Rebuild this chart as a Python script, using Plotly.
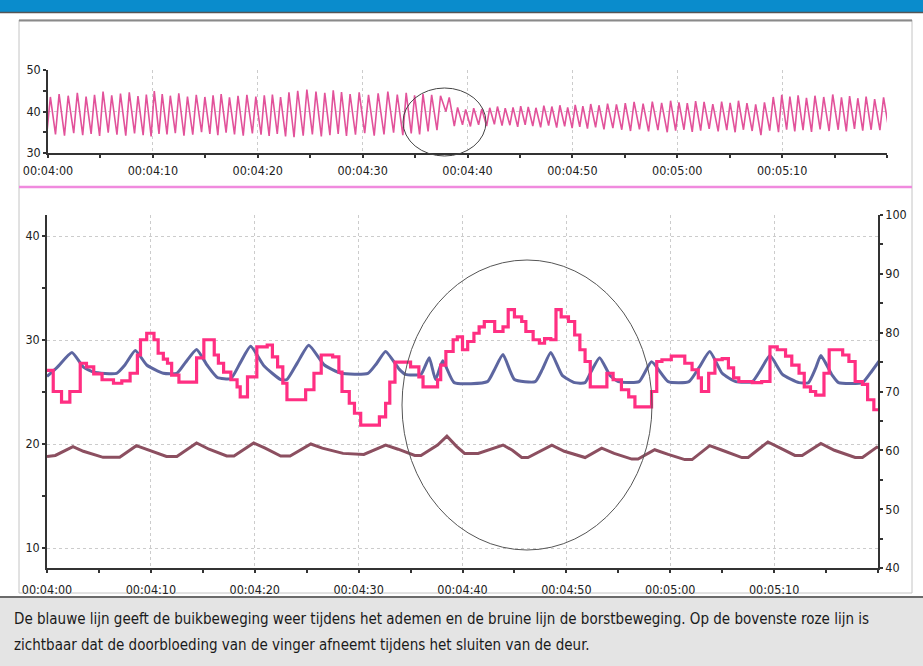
import plotly.graph_objects as go

# ---------------- data ----------------
x_tick_vals = [240, 250, 260, 270, 280, 290, 300, 310]
x_tick_text = ["00:04:00", "00:04:10", "00:04:20", "00:04:30",
               "00:04:40", "00:04:50", "00:05:00", "00:05:10"]

# heart rate (beats/min, right axis) - step line
hr_t = [240.0, 240.6, 241.4, 242.2, 243.2, 243.8, 244.5, 245.3, 246.4, 247.2,
        248.0, 248.7, 249.0, 249.6, 250.3, 250.7, 251.2, 251.6, 252.0, 252.7,
        254.4, 255.1, 256.1, 256.5, 257.0, 257.7, 258.3, 258.6, 259.3, 260.2,
        261.2, 261.7, 262.2, 262.7, 263.1, 264.9, 265.7, 266.4, 267.5, 268.1,
        268.4, 269.1, 269.6, 270.2, 272.0, 272.6, 273.0, 273.5, 275.0, 275.8,
        276.2, 277.6, 277.9, 278.4, 279.1, 279.5, 280.0, 280.5, 281.1, 281.6,
        282.1, 283.1, 283.9, 284.4, 285.0, 285.7, 286.1, 286.8, 287.4, 287.9,
        288.5, 289.0, 289.5, 290.2, 290.8, 291.3, 291.8, 292.3, 293.9, 294.5,
        295.3, 296.0, 296.6, 298.2, 298.7, 299.2, 300.1, 301.4, 302.1, 302.7,
        303.0, 303.7, 304.3, 305.0, 305.6, 306.1, 306.6, 307.9, 308.8, 309.6,
        310.3, 311.1, 311.7, 312.4, 312.9, 313.5, 314.0, 314.8, 315.3, 316.6,
        317.2, 317.8, 318.5, 319.0, 319.6, 320.2]
hr_bpm = [73.6, 70.0, 68.2, 70.0, 74.8, 74.2, 73.0, 72.0, 71.4, 71.8,
          73.1, 76.2, 78.8, 79.9, 78.8, 76.5, 75.5, 74.8, 72.8, 71.6,
          75.7, 78.8, 76.2, 74.8, 73.3, 72.0, 70.8, 69.1, 72.5, 77.6,
          77.9, 75.9, 74.2, 71.4, 68.6, 70.3, 73.1, 76.2, 75.9, 73.3,
          70.0, 68.0, 66.3, 64.3, 65.7, 68.0, 71.6, 75.0, 74.2, 72.5,
          70.8, 72.0, 74.5, 76.8, 78.8, 79.3, 77.1, 78.5, 79.9, 81.0,
          81.9, 80.2, 81.0, 83.9, 82.7, 81.9, 80.2, 78.8, 78.2, 79.0,
          78.8, 83.9, 82.7, 81.9, 79.6, 77.1, 75.1, 70.8, 73.1, 72.0,
          70.3, 69.1, 67.4, 70.0, 75.1, 75.4, 76.0, 74.8, 73.7, 72.3,
          70.0, 73.1, 75.4, 75.6, 74.0, 72.3, 71.7, 71.5, 71.7, 77.6,
          77.1, 76.0, 74.5, 73.1, 70.8, 70.0, 69.4, 73.1, 77.1, 76.2,
          75.1, 71.7, 71.2, 68.6, 66.9, 66.9]

# abdominal breathing (blue, left axis)
abd_t = [240.0, 241.0, 242.4, 243.5, 244.5, 246.7, 247.5, 248.5, 249.6, 251.2,
         252.5, 253.3, 254.4, 255.4, 256.4, 257.7, 258.6, 259.6, 260.9, 262.5,
         263.1, 264.1, 265.2, 266.7, 268.3, 270.9, 271.7, 272.6, 273.9, 274.5,
         276.0, 276.8, 277.4, 278.1, 279.2, 282.4, 283.1, 283.9, 285.0, 287.0,
         287.7, 288.5, 289.6, 290.8, 291.8, 292.4, 293.2, 294.2, 295.0, 297.0,
         298.2, 299.8, 301.8, 302.8, 303.8, 305.0, 306.3, 307.9, 308.8, 309.6,
         310.8, 312.4, 313.3, 314.0, 314.5, 315.6, 316.2, 318.5, 319.4, 320.2]
abd_v = [26.5, 27.4, 28.8, 27.4, 26.9, 26.8, 27.6, 29.0, 27.6, 26.8,
         26.8, 27.8, 29.1, 27.6, 26.4, 26.3, 27.8, 29.4, 27.5, 26.2,
         26.2, 27.8, 29.5, 27.6, 26.8, 26.8, 27.7, 28.9, 27.2, 26.7,
         26.7, 28.3, 26.2, 28.0, 25.9, 26.0, 27.2, 28.6, 26.2, 26.0,
         27.2, 28.8, 26.6, 25.9, 25.9, 27.0, 28.3, 26.6, 26.0, 26.0,
         27.9, 26.0, 26.0, 27.4, 28.9, 26.8, 26.0, 26.0, 27.3, 28.5,
         26.7, 25.9, 25.9, 27.3, 28.5, 26.6, 25.9, 25.9, 27.0, 28.1]

# chest breathing (brown, left axis)
chest_t = [240.0, 240.8, 242.5, 243.5, 245.4, 247.0, 248.6, 249.8, 251.5, 252.5,
           254.4, 255.6, 257.3, 258.0, 259.9, 261.0, 262.5, 263.4, 265.4, 266.5,
           268.5, 270.5, 272.6, 273.8, 275.4, 276.0, 277.6, 278.5, 279.4, 280.2,
           281.5, 283.9, 284.8, 285.7, 286.3, 288.6, 289.8, 291.8, 293.4, 294.6,
           296.3, 296.9, 298.5, 299.8, 301.4, 302.1, 303.8, 305.0, 306.9, 307.5,
           309.4, 310.6, 312.0, 312.7, 314.5, 315.8, 317.8, 318.5, 319.9, 320.2]
chest_v = [18.8, 18.9, 19.75, 19.3, 18.72, 18.72, 19.84, 19.4, 18.8, 18.8,
           20.1, 19.5, 18.85, 18.85, 20.1, 19.6, 18.85, 18.85, 20.0, 19.6,
           19.1, 19.0, 19.9, 19.5, 18.9, 18.9, 19.9, 20.75, 19.8, 19.1,
           19.1, 19.9, 19.4, 18.7, 18.7, 19.9, 19.3, 18.7, 19.6, 19.1,
           18.55, 18.55, 19.45, 19.0, 18.5, 18.5, 19.85, 19.4, 18.7, 18.7,
           20.2, 19.6, 18.9, 18.9, 20.05, 19.4, 18.7, 18.7, 19.7, 19.6]

# finger pulse (top chart): per-beat peak and trough values
pulse_peak = [43.5, 44.2, 43.8, 44.5, 43.6, 44.0, 44.8, 43.9, 44.3, 44.6,
              43.7, 44.1, 44.9, 44.2, 43.8, 44.4, 43.6, 44.0, 43.5, 43.9,
              44.2, 43.4, 43.8, 44.0, 43.6, 43.9, 44.1, 43.5, 44.6, 45.0,
              45.3, 44.8, 44.5, 45.1, 44.7, 44.2, 44.6, 44.0, 44.4, 44.8,
              44.1, 44.5, 43.9, 44.2,
              44.0, 43.8, 43.4, 41.0, 40.5, 40.8,
              40.6, 40.9, 41.2, 40.8, 41.0, 41.3, 41.1, 40.9, 41.4, 41.2,
              41.5, 41.0, 41.6, 41.3, 41.8, 41.5, 41.9, 41.7,
              42.0, 42.3, 41.9, 42.4, 42.1, 42.6, 42.2, 42.0, 42.5, 42.3,
              41.8, 42.4, 42.1, 42.6, 42.0, 41.7, 42.2,
              43.5, 44.0, 43.6, 43.9, 43.3, 43.8, 43.5, 44.1, 43.4, 43.7,
              43.2, 43.6, 43.0, 43.4, 43.5, 43.2, 43.6, 43.3]
pulse_trough = [35.0, 34.5, 34.2, 34.8, 34.3, 34.6, 34.1, 34.9, 34.4, 34.2,
                34.7, 34.3, 34.0, 34.6, 34.5, 34.8, 34.2, 34.4, 35.0, 34.6,
                34.3, 34.9, 34.5, 34.2, 34.7, 34.4, 34.1, 34.6, 34.0, 33.8,
                34.2, 34.5, 34.0, 34.3, 34.6, 34.1, 34.4, 34.8, 34.2, 34.5,
                34.9, 34.3, 34.7, 34.5,
                35.2, 35.5, 40.0, 36.5, 36.8, 36.4,
                36.8, 36.5, 36.9, 36.6, 36.7, 36.3, 36.8, 36.5, 36.2, 36.6,
                36.1, 36.4, 36.0, 36.3, 35.9, 36.2, 35.7, 36.0,
                35.6, 35.3, 35.7, 35.2, 35.5, 35.0, 35.4, 35.6, 35.1, 35.4,
                35.8, 35.2, 35.5, 35.0, 35.6, 35.3, 34.3,
                35.4, 35.0, 35.6, 35.2, 35.5, 35.1, 35.7, 35.3, 35.6, 35.2,
                35.8, 35.4, 35.6, 35.5, 35.3, 35.6, 35.2, 35.5]

# ---------------- build pulse waveform from beats ----------------
def hr_at(t):
    v = hr_bpm[0]
    for tt, vv in zip(hr_t, hr_bpm):
        if tt <= t:
            v = vv
        else:
            break
    return v

beat_t = []
tb = 239.9
while tb < 321 and len(beat_t) < len(pulse_peak):
    beat_t.append(tb)
    tb += 60.0 / hr_at(max(tb, 240.0))

px, py = [], []
for i, (b, pk, tr) in enumerate(zip(beat_t, pulse_peak, pulse_trough)):
    nxt = beat_t[i + 1] if i + 1 < len(beat_t) else b + 0.8
    d = nxt - b
    px += [b, b + 0.4 * d]
    py += [tr, pk]

W, H = 923, 666
def fx(p):
    return p / W
def fy(p):
    return 1 - p / H

FONT = "Liberation Sans Narrow, Arial Narrow, DejaVu Sans Condensed, sans-serif"

fig = go.Figure()
fig.add_trace(go.Scatter(x=px, y=py, mode="lines", xaxis="x", yaxis="y",
                         line=dict(color="#e2529a", width=1.6), showlegend=False))
fig.add_trace(go.Scatter(x=hr_t, y=hr_bpm, mode="lines", xaxis="x2", yaxis="y3",
                         line=dict(color="#ff2f82", width=3.2, shape="hv"), showlegend=False))
fig.add_trace(go.Scatter(x=abd_t, y=abd_v, mode="lines", xaxis="x2", yaxis="y2",
                         line=dict(color="#5d66a0", width=3, shape="spline", smoothing=0.5),
                         showlegend=False))
fig.add_trace(go.Scatter(x=chest_t, y=chest_v, mode="lines", xaxis="x2", yaxis="y2",
                         line=dict(color="#8c4f60", width=3), showlegend=False))

axis_common = dict(showline=True, linecolor="#333", linewidth=1.5, ticks="outside",
                   ticklen=3, tickwidth=2, tickcolor="#333", zeroline=False,
                   automargin=False,
                   tickfont=dict(family=FONT, size=12.5, color="#222"),
                   gridcolor="#cccccc", griddash="dot", gridwidth=1)

shapes = [
    # blue header
    dict(type="rect", xref="paper", yref="paper", x0=0, x1=1, y0=fy(12), y1=1,
         fillcolor="#0a8ccc", line=dict(width=0), layer="below"),
    dict(type="line", xref="paper", yref="paper", x0=0, x1=1, y0=fy(12.5), y1=fy(12.5),
         line=dict(color="#555", width=1.5), layer="below"),
    # panel
    dict(type="rect", xref="paper", yref="paper", x0=fx(19), x1=fx(912), y0=fy(593), y1=fy(20),
         fillcolor="#ffffff", line=dict(color="#c4c4c4", width=1), layer="below"),
    dict(type="line", xref="paper", yref="paper", x0=fx(19), x1=fx(912), y0=fy(20.5), y1=fy(20.5),
         line=dict(color="#8a8a8a", width=2), layer="below"),
    # pink separator
    dict(type="line", xref="paper", yref="paper", x0=fx(19), x1=fx(912), y0=fy(187), y1=fy(187),
         line=dict(color="#f08ade", width=2.5), layer="below"),
    # caption box
    dict(type="rect", xref="paper", yref="paper", x0=0, x1=1, y0=0, y1=fy(597),
         fillcolor="#e4e4e4", line=dict(width=0), layer="below"),
    dict(type="line", xref="paper", yref="paper", x0=0, x1=1, y0=fy(597), y1=fy(597),
         line=dict(color="#6a6a6a", width=2), layer="below"),
    # ellipses
    dict(type="circle", xref="paper", yref="paper", x0=fx(403), x1=fx(486), y0=fy(156), y1=fy(88),
         line=dict(color="#444", width=1), layer="above"),
    dict(type="circle", xref="paper", yref="paper", x0=fx(402), x1=fx(652), y0=fy(550), y1=fy(260),
         line=dict(color="#555", width=1), layer="above"),
]

minor_x = dict(tickmode="linear", tick0=240, dtick=5, ticks="outside",
               ticklen=3, tickcolor="#333", showgrid=False)

fig.update_layout(
    width=W, height=H, margin=dict(l=0, r=0, t=0, b=0, pad=0, autoexpand=False),
    paper_bgcolor="white", plot_bgcolor="rgba(0,0,0,0)", showlegend=False,
    xaxis=dict(axis_common, domain=[fx(48), fx(887)], range=[240, 320], anchor="y",
               tickvals=x_tick_vals, ticktext=x_tick_text, showgrid=True, minor=minor_x,
               ticklabelstandoff=2),
    yaxis=dict(axis_common, domain=[fy(153), fy(70)], range=[30, 50], anchor="x",
               tickvals=[30, 40, 50], showgrid=True,
               minor=dict(tickmode="linear", tick0=30, dtick=5, ticks="outside",
                          ticklen=3, tickcolor="#333", showgrid=False)),
    xaxis2=dict(axis_common, domain=[fx(47), fx(878)], range=[240, 320], anchor="y2",
                tickvals=x_tick_vals, ticktext=x_tick_text, showgrid=True, minor=minor_x,
                ticklabelstandoff=6),
    yaxis2=dict(axis_common, domain=[fy(568), fy(215)], range=[8.08, 42.02], anchor="x2",
                tickvals=[10, 20, 30, 40], showgrid=True,
                minor=dict(tickmode="linear", tick0=10, dtick=5, ticks="outside",
                           ticklen=3, tickcolor="#333", showgrid=False)),
    yaxis3=dict(axis_common, overlaying="y2", side="right", anchor="x2", range=[40, 100],
                tickvals=[40, 50, 60, 70, 80, 90, 100], showgrid=False,
                minor=dict(tickmode="linear", tick0=40, dtick=5, ticks="outside",
                           ticklen=3, tickcolor="#333", showgrid=False)),
    shapes=shapes,
    annotations=[
        dict(xref="paper", yref="paper", x=fx(12), y=fy(619), xanchor="left", yanchor="middle",
             showarrow=False, align="left",
             text="De blauwe lijn geeft de buikbeweging weer tijdens het ademen en de bruine lijn de borstbeweging. Op de bovenste roze lijn is",
             font=dict(family=FONT, size=15, color="#1a1a1a")),
        dict(xref="paper", yref="paper", x=fx(12), y=fy(645), xanchor="left", yanchor="middle",
             showarrow=False, align="left",
             text="zichtbaar dat de doorbloeding van de vinger afneemt tijdens het sluiten van de deur.",
             font=dict(family=FONT, size=15, color="#1a1a1a")),
    ],
)

fig.write_html("out.html", config={"displayModeBar": False},
               post_script="document.body.style.margin='0';document.body.style.overflow='hidden';")
